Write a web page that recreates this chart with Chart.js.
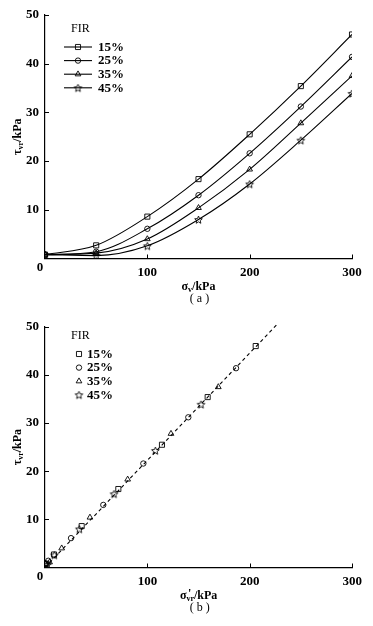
<!DOCTYPE html>
<html><head><meta charset="utf-8">
<script src="https://cdn.jsdelivr.net/npm/chart.js@4"></script>
<style>
html,body{margin:0;padding:0;background:#fff;}
#wrap{width:373px;height:626px;position:relative;overflow:hidden;}
.box{position:absolute;left:0;width:373px;height:313px;}
canvas{display:block;}
</style></head><body>
<div id="wrap">
<div class="box" style="top:0"><canvas id="ca" width="373" height="313"></canvas></div>
<div class="box" style="top:313px"><canvas id="cb" width="373" height="313"></canvas></div>
</div>
<script>
// ---- data ----
const seriesNames = ['15%', '25%', '35%', '45%'];
const legendTitle = 'FIR';
const sigmaV = [0, 50, 100, 150, 200, 250, 300];
const tau15 = [0.8, 2.7, 8.6, 16.3, 25.5, 35.4, 46.0];
const tau25 = [0.8, 1.4, 6.1, 13.0, 21.6, 31.2, 41.4];
const tau35 = [0.8, 1.1, 4.0, 10.4, 18.3, 27.8, 37.5];
const tau45 = [0.8, 0.6, 2.6, 8.0, 15.3, 24.3, 33.9];
const sigVr15 = [1.5, 8.8, 35.8, 71.6, 114.2, 158.8, 205.7];
const sigVr25 = [0.8, 3.2, 25.4, 56.9, 96.0, 139.9, 186.5];
const sigVr35 = [0.6, 4.5, 16.3, 43.9, 80.7, 123.0, 169.2];
const sigVr45 = [0.5, 2.2, 9.1, 33.5, 67.4, 107.7, 152.3];
const fitX = [0, 227.5];
const fitY = [0, 50.7];
const xTickValues = [0, 100, 200, 300];
const yTickValues = [0, 10, 20, 30, 40, 50];

// ---- styles ----
const SERIF = '"Liberation Serif", "Times New Roman", serif';
function makeStar(r) {
  const s = Math.ceil(r * 2 + 3);
  const c = document.createElement('canvas');
  c.width = s; c.height = s;
  const g = c.getContext('2d');
  g.strokeStyle = '#000'; g.lineWidth = 0.9;
  g.beginPath();
  for (let i = 0; i < 10; i++) {
    const a = -Math.PI / 2 + i * Math.PI / 5;
    const rr = i % 2 ? r * 0.45 : r;
    g.lineTo(s / 2 + rr * Math.cos(a), s / 2 + rr * Math.sin(a) + 0.5);
  }
  g.closePath(); g.stroke();
  return c;
}
const star = makeStar(4);
const pStyles = ['rect', 'circle', 'triangle', star];
const pRadius = [3.6, 2.7, 3.3, 4];

function pts(xs, ys) { return xs.map((x, i) => ({x: x, y: ys[i]})); }

// ---- drawing helpers ----
function drawParts(ctx, parts, cx, cy) {
  const big = 'bold 12px ' + SERIF, small = 'bold 8px ' + SERIF;
  let w = 0;
  const items = parts.map(p => {
    ctx.font = p.k ? small : big;
    let wd = ctx.measureText(p.t).width;
    if (p.k === 'supsub') { ctx.font = small; wd = ctx.measureText(p.sub).width; }
    w += wd; return {p, wd};
  });
  let x = cx - w / 2;
  ctx.fillStyle = '#000'; ctx.textBaseline = 'middle'; ctx.textAlign = 'left';
  items.forEach(({p, wd}) => {
    if (!p.k) { ctx.font = big; ctx.fillText(p.t, x, cy); }
    else if (p.k === 'sub') { ctx.font = small; ctx.fillText(p.t, x, cy + 3); }
    else if (p.k === 'supsub') {
      ctx.font = small; ctx.fillText(p.sub, x, cy + 3);
      ctx.font = 'bold 12px ' + SERIF; ctx.fillText(p.t, x + 1.5, cy - 2);
    }
    x += wd;
  });
}

function decorPlugin(cfg) {
  return {
    id: 'decor',
    afterDraw(chart) {
      const ctx = chart.ctx, a = chart.chartArea;
      const xs = chart.scales.x, ys = chart.scales.y;
      ctx.save();
      ctx.strokeStyle = '#000'; ctx.lineWidth = 1;
      // inward ticks
      yTickValues.forEach(v => {
        if (v === 0) return;
        const py = Math.round(ys.getPixelForValue(v)) + 0.5;
        ctx.beginPath(); ctx.moveTo(a.left, py); ctx.lineTo(a.left + 4, py); ctx.stroke();
      });
      xTickValues.forEach(v => {
        if (v === 0) return;
        const px = Math.round(xs.getPixelForValue(v)) + 0.5;
        ctx.beginPath(); ctx.moveTo(px, a.bottom); ctx.lineTo(px, a.bottom - 4); ctx.stroke();
      });
      // corner zero
      ctx.fillStyle = '#000';
      ctx.font = 'bold 13px ' + SERIF; ctx.textAlign = 'center'; ctx.textBaseline = 'middle';
      ctx.fillText('0', a.left - 5, a.bottom + 9);
      // x title
      const cx = (a.left + a.right) / 2;
      drawParts(ctx, cfg.xTitle, cx, a.bottom + 28);
      // caption
      ctx.font = '12px ' + SERIF; ctx.textAlign = 'center'; ctx.textBaseline = 'middle';
      ctx.fillText(cfg.caption, cx + 1, a.bottom + 40);
      // y title rotated
      ctx.save();
      ctx.translate(18, (a.top + a.bottom) / 2);
      ctx.rotate(-Math.PI / 2);
      drawParts(ctx, cfg.yTitle, 0, 0);
      ctx.restore();
      // legend
      ctx.font = '12px ' + SERIF; ctx.textAlign = 'left'; ctx.textBaseline = 'middle';
      ctx.fillText(legendTitle, 71, cfg.legTop);
      chart.data.datasets.forEach((ds, i) => {
        if (i >= seriesNames.length) return;
        const ly = cfg.legTop + 18 + i * 13.6;
        ctx.strokeStyle = '#000';
        if (cfg.legLine) {
          ctx.lineWidth = 1.1;
          ctx.beginPath(); ctx.moveTo(64, ly); ctx.lineTo(92, ly); ctx.stroke();
        }
        ctx.lineWidth = 0.9;
        ctx.fillStyle = 'rgba(0,0,0,0)';
        Chart.helpers.drawPoint(ctx, {pointStyle: ds.pointStyle, radius: ds.pointRadius, rotation: 0, borderWidth: 0.9}, cfg.legMarkX, ly);
        ctx.fillStyle = '#000';
        ctx.font = 'bold 13px ' + SERIF;
        ctx.fillText(seriesNames[i], cfg.legTextX, ly + 0.5);
      });
      ctx.restore();
    }
  };
}

function baseOptions(padTop, xH, padRight) {
  return {
    responsive: false, animation: false, devicePixelRatio: 1,
    layout: {padding: {top: padTop, right: padRight, left: 0, bottom: 0}},
    plugins: {legend: {display: false}, tooltip: {enabled: false}},
    scales: {
      x: {
        type: 'linear', min: 0, max: 300,
        afterBuildTicks: s => { s.ticks = xTickValues.map(v => ({value: v})); },
        ticks: {callback: v => v === 0 ? '' : String(v), color: '#000', font: {family: SERIF, size: 13, weight: 'bold'}, padding: 6, maxRotation: 0},
        grid: {display: false, drawTicks: false},
        border: {display: true, color: '#000', width: 1.2},
        afterFit: s => { s.height = xH; }
      },
      y: {
        type: 'linear', min: 0, max: 50,
        afterBuildTicks: s => { s.ticks = yTickValues.map(v => ({value: v})); },
        ticks: {callback: v => v === 0 ? '' : String(v), color: '#000', font: {family: SERIF, size: 13, weight: 'bold'}, padding: 6},
        grid: {display: false, drawTicks: false},
        border: {display: true, color: '#000', width: 1.2},
        afterFit: s => { s.width = 45; }
      }
    }
  };
}

const tauSets = [tau15, tau25, tau35, tau45];
const vrSets = [sigVr15, sigVr25, sigVr35, sigVr45];

// ---- chart (a) ----
new Chart(document.getElementById('ca'), {
  type: 'line',
  data: {
    datasets: tauSets.map((t, i) => ({
      label: seriesNames[i], data: pts(sigmaV, t),
      borderColor: '#000', borderWidth: 1.1, fill: false,
      cubicInterpolationMode: 'monotone',
      pointStyle: pStyles[i], pointRadius: pRadius[i], pointBorderWidth: 0.9,
      pointBorderColor: '#000', pointBackgroundColor: 'rgba(0,0,0,0)'
    }))
  },
  options: baseOptions(15, 54.5, 21),
  plugins: [decorPlugin({
    xTitle: [{t: 'σ'}, {t: 'v', k: 'sub'}, {t: '/kPa'}],
    yTitle: [{t: 'τ'}, {t: 'vr', k: 'sub'}, {t: '/kPa'}],
    caption: '( a )', legTop: 29, legLine: true, legMarkX: 78, legTextX: 98
  })]
});

// ---- chart (b) ----
const dsB = vrSets.map((xv, i) => ({
  label: seriesNames[i], data: pts(xv, tauSets[i]), showLine: false,
  pointStyle: pStyles[i], pointRadius: pRadius[i], pointBorderWidth: 0.9,
  pointBorderColor: '#000', pointBackgroundColor: 'rgba(0,0,0,0)'
}));
dsB.push({
  label: 'fit', data: pts(fitX, fitY), showLine: true, pointRadius: 0,
  borderColor: '#000', borderWidth: 1.1, borderDash: [3.5, 3], clip: false, order: 10
});
new Chart(document.getElementById('cb'), {
  type: 'scatter',
  data: {datasets: dsB},
  options: baseOptions(8.7, 58.5, 20.7),
  plugins: [decorPlugin({
    xTitle: [{t: 'σ'}, {t: '\'', sub: 'vr', k: 'supsub'}, {t: '/kPa'}],
    yTitle: [{t: 'τ'}, {t: 'vr', k: 'sub'}, {t: '/kPa'}],
    caption: '( b )', legTop: 23, legLine: false, legMarkX: 79, legTextX: 87
  })]
});
</script>
</body></html>
